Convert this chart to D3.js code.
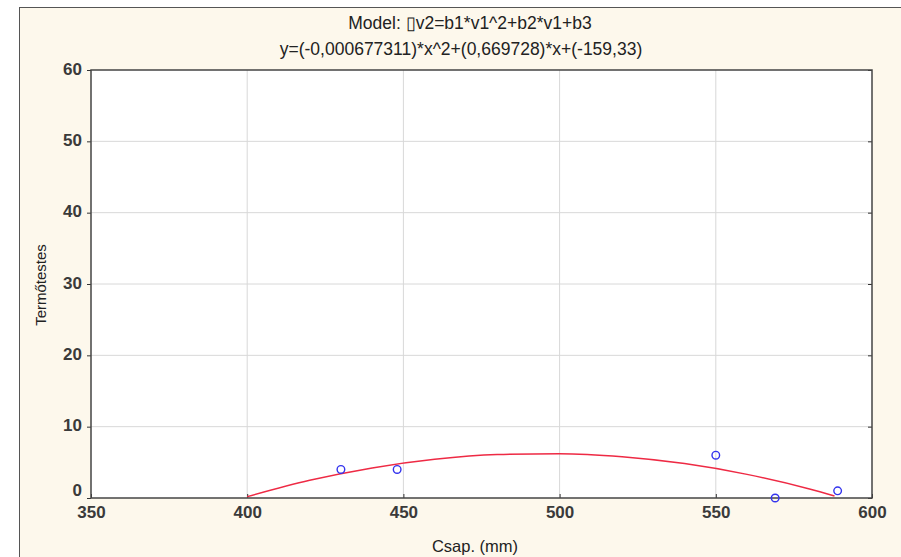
<!DOCTYPE html>
<html>
<head>
<meta charset="utf-8">
<script src="https://cdn.jsdelivr.net/npm/d3@7"></script>
<style>
body { margin: 0; background: #fff; }
text { font-family: "Liberation Sans", Arial, sans-serif; }
</style>
</head>
<body>
<div class="container"></div>
<script>
// observed points
var csap = [430, 448, 550, 569, 589];
var termo = [4, 4, 6, 0, 1];

// fitted curve
var fitX = [400, 420, 440, 460, 480, 500, 520, 540, 560, 580, 588];
var fitY = [0.19, 2.48, 4.22, 5.43, 6.09, 6.21, 5.78, 4.82, 3.31, 1.27, 0.29];

var xTicks = [350, 400, 450, 500, 550, 600];
var yTicks = [0, 10, 20, 30, 40, 50, 60];

var title1 = "Model: \u25AFv2=b1*v1^2+b2*v1+b3";
var title2 = "y=(-0,000677311)*x^2+(0,669728)*x+(-159,33)";

const WIDTH = 901;
const HEIGHT = 557;
const LEFT = 91, RIGHT = 872, TOP = 70, BOTTOM = 498;

var svg = d3.select(".container").append('svg')
	.attr('width', WIDTH)
	.attr('height', HEIGHT);

// cream frame
svg.append('rect')
	.attr('x', 19.5).attr('y', 7.5)
	.attr('width', WIDTH).attr('height', HEIGHT)
	.attr('fill', '#fdf8ec')
	.attr('stroke', '#555')
	.attr('stroke-width', 1);

var xScale = d3.scaleLinear().domain([350, 600]).range([LEFT, RIGHT]);
var yScale = d3.scaleLinear().domain([0, 60]).range([BOTTOM, TOP]);

svg.append('rect')
	.attr('x', LEFT).attr('y', TOP)
	.attr('width', RIGHT - LEFT).attr('height', BOTTOM - TOP)
	.attr('fill', '#fff');

// grid
svg.append('g').selectAll('line').data(xTicks.slice(1, -1)).enter().append('line')
	.attr('x1', d => xScale(d)).attr('x2', d => xScale(d))
	.attr('y1', TOP).attr('y2', BOTTOM)
	.attr('stroke', '#d8d8d8').attr('stroke-width', 1);
svg.append('g').selectAll('line').data(yTicks.slice(1, -1)).enter().append('line')
	.attr('x1', LEFT).attr('x2', RIGHT)
	.attr('y1', d => yScale(d)).attr('y2', d => yScale(d))
	.attr('stroke', '#d8d8d8').attr('stroke-width', 1);

// axes
var xAxis = d3.axisBottom(xScale).tickValues(xTicks).tickSize(-4).tickPadding(8);
var yAxis = d3.axisLeft(yScale).tickValues(yTicks).tickSize(4).tickPadding(5);
var yAxisR = d3.axisRight(yScale).tickValues(yTicks).tickSize(-4).tickFormat('');

var gx = svg.append('g').attr('transform', 'translate(0,' + BOTTOM + ')').call(xAxis);
var gy = svg.append('g').attr('transform', 'translate(' + LEFT + ',0)').call(yAxis);
var gr = svg.append('g').attr('transform', 'translate(' + RIGHT + ',0)').call(yAxisR);
[gx, gy, gr].forEach(function(g){
	g.select('.domain').remove();
	g.selectAll('line').attr('stroke', '#333');
	g.selectAll('text')
		.attr('fill', '#3a3a3a')
		.style('font-size', '17px')
		.style('font-weight', 'bold');
});
gy.selectAll('text').attr('dy', d => d === 0 ? '-0.15em' : '0.25em');

svg.append('rect')
	.attr('x', LEFT).attr('y', TOP)
	.attr('width', RIGHT - LEFT).attr('height', BOTTOM - TOP)
	.attr('fill', 'none')
	.attr('stroke', '#444')
	.attr('stroke-width', 1.5);

// fitted line
var line = d3.line()
	.x(function(d, i){ return xScale(fitX[i]); })
	.y(function(d){ return yScale(d); })
	.curve(d3.curveMonotoneX);

svg.append('path')
	.attr('d', line(fitY))
	.attr('fill', 'none')
	.attr('stroke', '#ee2a44')
	.attr('stroke-width', 1.5);

// points
svg.append('g').selectAll('circle').data(csap).enter().append('circle')
	.attr('cx', d => xScale(d))
	.attr('cy', (d, i) => yScale(termo[i]))
	.attr('r', 3.8)
	.attr('fill', 'none')
	.attr('stroke', '#3333ee')
	.attr('stroke-width', 1.4);

// titles
svg.append('text').attr('x', 470).attr('y', 29).attr('text-anchor', 'middle')
	.style('font-size', '17.5px').attr('fill', '#222').text(title1);
svg.append('text').attr('x', 461).attr('y', 55).attr('text-anchor', 'middle')
	.style('font-size', '17.5px').attr('fill', '#222').text(title2);

svg.append('text')
	.attr('transform', 'translate(46,' + 285 + ') rotate(-90)')
	.attr('text-anchor', 'middle')
	.style('font-size', '15px').attr('fill', '#222')
	.text('Termőtestes');

svg.append('text').attr('x', 475).attr('y', 552).attr('text-anchor', 'middle')
	.style('font-size', '16.5px').attr('fill', '#222').text('Csap. (mm)');
</script>
</body>
</html>
